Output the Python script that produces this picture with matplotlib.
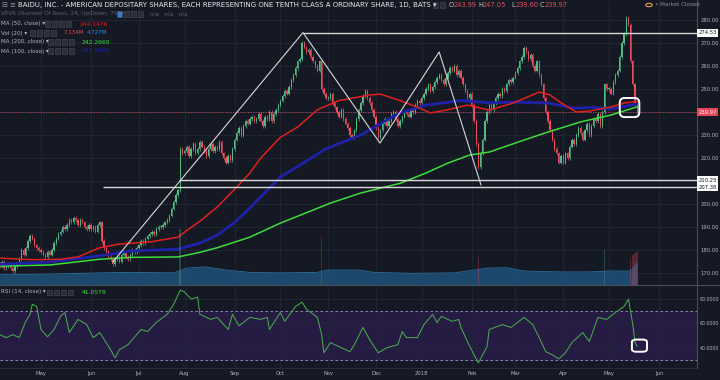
import numpy as np
import pandas as pd
import matplotlib
matplotlib.use("Agg")
import matplotlib.pyplot as plt
from matplotlib.patches import FancyBboxPatch, Rectangle
from matplotlib.lines import Line2D

# daily closes, 2017-04-03 .. 2018-05-18
closes = [
    # Apr 2017
    174, 173, 175, 172, 173, 174, 172, 171, 173, 174, 176, 180, 178, 181, 184, 186, 185, 182, 181, 180,
    # May
    179, 178, 177, 179, 178, 180, 183, 185, 187, 188, 190, 189, 191, 193, 192, 194, 193, 191, 193, 192, 190, 189, 191,
    # Jun
    189, 190, 188, 191, 192, 184, 181, 179, 177, 176, 174, 176, 177, 175, 178, 179, 177, 176, 178, 180, 179, 181,
    # Jul
    182, 184, 183, 185, 186, 187, 188, 187, 189, 190, 190, 191, 192, 193, 195, 198, 201, 204, 206, 224, 222,
    # Aug
    223, 225, 221, 224, 226, 222, 224, 227, 225, 223, 221, 224, 226, 223, 225, 224, 227, 222, 220, 218, 221, 219, 224,
    # Sep
    228, 231, 233, 230, 234, 236, 235, 237, 238, 236, 237, 239, 236, 234, 238, 237, 240, 236, 239, 241, 243,
    # Oct
    245, 247, 249, 248, 251, 254, 256, 259, 262, 263, 270, 268, 266, 267, 264, 262, 260, 258, 262, 250, 248, 246,
    # Nov
    246, 248, 244, 242, 240, 238, 241, 237, 235, 233, 230, 229, 232, 237, 241, 244, 247, 249, 246, 244, 241, 238,
    # Dec
    233, 229, 232, 235, 237, 234, 236, 239, 240, 237, 234, 236, 238, 240, 239, 238, 241, 240, 243, 245, 244,
    # Jan 2018
    246, 248, 250, 252, 249, 251, 253, 255, 256, 254, 252, 255, 257, 259, 258, 260, 256, 258, 255, 252, 249, 246, 248,
    # Feb
    243, 236, 226, 216, 222, 228, 236, 240, 243, 241, 244, 246, 248, 247, 250, 249, 252, 254, 253, 255,
    # Mar
    257, 259, 262, 264, 268, 266, 263, 265, 260, 258, 262, 256, 252, 246, 240, 236, 232, 228, 224, 222, 218, 221,
    # Apr
    218, 222, 220, 225, 228, 226, 230, 233, 231, 228, 232, 235, 230, 234, 237, 236, 239, 234, 240, 252, 250,
    # May
    250, 248, 253, 256, 258, 264, 270, 274, 281, 278, 262, 252, 243.99, 239.97,
]

# moving averages (bar index, value)
ma50_idx = [1, 16, 29, 37, 47, 56, 70, 83, 87, 93, 101, 110, 116, 121, 130, 138, 147, 157, 171, 176,
            185, 194, 199, 207, 216, 226, 237, 249, 254, 259, 266, 272, 282, 288, 294]
ma50_val = [176.5, 175.8, 176, 177, 181, 182.6, 183.5, 185.6, 188.5, 192.5, 198.7, 207.4, 213.5, 220, 229, 233.5,
            241, 245, 247.4, 247.8, 245, 241.7, 239.6, 241, 243, 240.8, 243.9, 248.7, 247.4, 244, 240, 240.4,
            242.2, 243.9, 244.6]
ma100_idx = [1, 24, 47, 61, 83, 93, 101, 109, 116, 130, 151, 167, 176, 185, 197, 213, 226, 236, 253, 265, 274, 282, 294]
ma100_val = [173.8, 174.8, 177.5, 179.6, 180.4, 183, 186.5, 192, 198.3, 211.7, 224, 230, 235, 239.6, 243, 245,
             244, 244.3, 243.9, 241.7, 242, 241.3, 243.5]
ma200_idx = [1, 24, 47, 61, 83, 93, 101, 116, 130, 153, 167, 185, 197, 207, 217, 226, 242, 253, 268, 282, 294]
ma200_val = [173, 173.5, 176, 176.8, 177, 179, 181, 185.6, 191.7, 200.4, 204.8, 209, 213.5, 217.8, 221.3, 222.6,
             227.8, 231.3, 235.7, 238.7, 242.27]

# volume 20-day average (millions) and the few visible volume spikes
volma_idx = [1, 20, 47, 61, 81, 87, 95, 105, 116, 130, 147, 151, 166, 173, 190, 210, 225, 234, 242, 258, 272, 281, 291, 294]
volma_val = [2.2, 2.3, 2.6, 2.7, 2.6, 3.6, 3.9, 3.2, 2.7, 2.6, 2.7, 3.2, 3.2, 2.7, 2.5, 2.6, 3.6, 3.7, 3.0, 2.8,
             2.8, 3.0, 3.0, 4.7]
spike_idx = [84, 149, 221, 279, 291, 292, 293, 294]
spike_vol = [12.0, 10.3, 6.0, 7.5, 5.5, 6.5, 6.8, 7.13]

# RSI (14)
rsi_idx = [1, 4, 7, 10, 13, 15, 16, 18, 20, 23, 26, 29, 31, 33, 37, 41, 44, 47, 52, 54,
           56, 60, 62, 66, 69, 73, 78, 81, 84, 86, 89, 92, 93, 98, 101, 106, 108, 111, 116, 121,
           124, 125, 130, 132, 137, 140, 142, 147, 149, 150, 153, 157, 162, 164, 168, 171, 175, 179, 184, 186,
           188, 193, 196, 200, 202, 204, 209, 212, 213, 216, 219, 221, 225, 226, 232, 236, 239, 242, 246, 249,
           252, 255, 258, 261, 264, 269, 272, 276, 280, 284, 288, 290, 292, 293, 294]
rsi_val = [50.8, 48.3, 50.8, 48.3, 61.7, 67.5, 75.8, 74, 55, 49, 55, 66, 69, 52.5, 63.3, 59, 48.3, 52.5, 38.3, 31.7,
           38.3, 42.5, 46.7, 55, 53.3, 60.8, 67.5, 75.8, 87.5, 85.8, 80, 81.7, 67.5, 63.3, 65, 55, 67.5, 58, 65, 63.3,
           65, 55, 69, 61.7, 74, 77.5, 71.7, 65, 50.8, 35.8, 44.2, 40.8, 36.7, 42.5, 56.7, 46.7, 35.8, 40, 42.5, 53.3,
           48.3, 48.3, 59, 67.5, 60.8, 65.8, 61.7, 63.3, 56.7, 45, 34.2, 27.5, 40.8, 55, 59, 56.7, 60.8, 65, 59, 48.3,
           36.7, 34.2, 30.8, 35.8, 44.2, 52.5, 45, 65, 63.3, 69, 74, 80, 59, 44.2, 41.06]

# drawn pattern and horizontal levels
pattern_idx = [53, 140.4, 175.8, 203, 222.2]
pattern_px = [174.8, 274.53, 226.5, 266.1, 208.3]
level_px = [274.53, 210.25, 207.38]
level_start = [140.4, 83.4, 48.5]
last_price = 239.97

month_names = ["Apr", "May", "Jun", "Jul", "Aug", "Sep", "Oct", "Nov", "Dec", "2018",
               "Feb", "Mar", "Apr", "May", "Jun"]

BG = "#151924"
GRID = "#242836"
TXT = "#b2b5be"
UP = "#53b987"
DOWN = "#eb4d5c"

days = pd.bdate_range("2017-04-03", periods=330)
mstarts = [i for i in range(len(days)) if i == 0 or days[i].month != days[i - 1].month][:len(month_names)]

closes = np.array(closes, dtype=float)
opens = np.r_[closes[0], closes[:-1]]
idx = np.arange(len(closes))

fig = plt.figure(figsize=(7.2, 3.8), dpi=100, facecolor=BG)
ax = fig.add_axes([0, 0.25, 697 / 720, 0.75], facecolor=BG)
ar = fig.add_axes([0, 12 / 380, 697 / 720, 82 / 380], facecolor=BG, sharex=ax)

# volume on its own scale at the bottom of the price pane
av = ax.twinx()
av.set_ylim(0, 61)
av.axis("off")

for a in (ax, ar):
    for s in a.spines.values():
        s.set_visible(False)
    a.spines["right"].set_visible(True)
    a.spines["right"].set_color("#4a4e5a")
    a.yaxis.tick_right()
    a.tick_params(axis="both", length=0, colors=TXT, labelsize=3.8, pad=2.5)
    a.set_xticks(mstarts)
    a.grid(True, color=GRID, lw=0.6)
    a.set_axisbelow(True)

ax.set_xlim(1.15, 321.5)
ax.set_ylim(164.8, 288.7)
price_ticks = np.arange(170, 290, 10)
ax.set_yticks(price_ticks)
# 210 and 240 sit under the price tags
ax.set_yticklabels(["" if v in (210, 240) else "%.2f" % v for v in price_ticks])
plt.setp(ax.get_xticklabels(), visible=False)

av.fill_between(volma_idx, 0, volma_val, color="#1d4f73", alpha=0.9, lw=0)
av.plot(volma_idx, volma_val, color="#2b6f9e", lw=0.6)
av.bar(spike_idx, spike_vol, width=0.7,
       color=[UP if closes[i] >= opens[i] else DOWN for i in spike_idx], alpha=0.3)

# candles
up = closes >= opens
body = np.maximum(np.abs(closes - opens), 0.35)
ax.bar(idx, body, bottom=np.minimum(opens, closes), width=0.6,
       color=np.where(up, UP, DOWN), lw=0, zorder=3)
ax.vlines(idx, np.minimum(opens, closes) - 0.8, np.maximum(opens, closes) + 0.8,
          colors=np.where(up, UP, DOWN), lw=0.5, zorder=3)

# moving averages
ax.plot(ma200_idx, ma200_val, color="#3ddc3d", lw=1.1, zorder=4)
ax.plot(ma100_idx, ma100_val, color="#1f22a8", lw=2.0, zorder=4)
ax.plot(ma50_idx, ma50_val, color="#e0201e", lw=1.1, zorder=5)

# drawings
ax.plot(pattern_idx, pattern_px, color="#d8d8d8", lw=0.8, zorder=6)
for p, s in zip(level_px, level_start):
    ax.hlines(p, s, 330, color="#d8d8d8", lw=1.0, zorder=6)
ax.axhline(last_price, color="#c04a5a", lw=0.6, ls=(0, (1.5, 1.5)), zorder=2)
ax.add_patch(FancyBboxPatch((286, 237.8), 9, 8.3, boxstyle="round,pad=0,rounding_size=2.2",
                            fc="none", ec="white", lw=1.4, zorder=7))

# RSI pane
ar.set_ylim(23.3, 90.8)
ar.set_yticks([40, 60, 80])
ar.set_yticklabels(["40.0000", "60.0000", "80.0000"])
ar.tick_params(axis="y", labelsize=3.4, pad=2)
ar.set_xticklabels(month_names)
ar.axhspan(30, 70, color="#271d45", alpha=0.95, zorder=0)
ar.axhline(70, color="#9a96b8", lw=0.6, ls=(0, (3, 3)))
ar.axhline(30, color="#9a96b8", lw=0.6, ls=(0, (3, 3)))
ar.plot(rsi_idx, rsi_val, color="#4caf50", lw=0.7, zorder=4)
ar.add_patch(FancyBboxPatch((291.6, 36.7), 6.9, 10, boxstyle="round,pad=0,rounding_size=2",
                            fc="none", ec="white", lw=1.4, zorder=7))

fig.add_artist(Line2D([0, 1], [0.25, 0.25], color="#4a4e5a", lw=0.8))
fig.add_artist(Line2D([0, 697 / 720], [12 / 380, 12 / 380], color="#2e3240", lw=0.6))


def px(x, y):
    return x / 720, 1 - y / 380


def label(x, y, s, color=TXT, size=4.3, **kw):
    fig.text(*px(x, y), s, color=color, fontsize=size, va="center", ha="left", **kw)


def icons(x, y, n=4, first=None):
    for k in range(n):
        fc = first if (k == 0 and first) else "#2a2e3a"
        fig.add_artist(Rectangle(px(x + k * 7, y + 2.5), 5 / 720, 5 / 380,
                                 transform=fig.transFigure, fc=fc, ec="#4a4e5a", lw=0.4))


# header
label(1, 5, "\u229f", "#9598a1", 5)
label(9, 5, "\u2261", "#9598a1", 5)
label(18, 5, "BAIDU, INC. - AMERICAN DEPOSITARY SHARES, EACH REPRESENTING ONE TENTH CLASS A "
      "ORDINARY SHARE, 1D, BATS \u25be", "#e8e9ec", 5.0)
icons(433, 5, 2)
for xx, l, v in [(449, "O", "243.99"), (478, "H", "247.05"), (511, "L", "239.60"), (540, "C", "239.97")]:
    label(xx, 5, l, "#c8c9cc", 4.8)
    label(xx + 5, 5, v, "#e0505e", 4.8)

label(1, 14, "VPVR (Number Of Rows, 24, Up/Down, 70) \u25be", "#5d606b", 4.1)
icons(117, 14, 4, first="#2f7fd8")
label(150, 14, "n/a   n/a   n/a", "#5d606b", 4.1)
label(1, 24, "MA (50, close) \u25be", "#b2b5be", 4.1)
icons(45, 24)
label(80, 24, "244.1476", "#e0201e", 4.3)
label(1, 33, "Vol (20) \u25be", "#b2b5be", 4.1)
icons(30, 33)
label(64, 33, "7.134M", "#e0505e", 4.0)
label(87, 33, "4.727M", "#2196f3", 4.0)
label(1, 42, "MA (200, close) \u25be", "#b2b5be", 4.1)
icons(48, 42)
label(82, 42, "242.2660", "#3ddc3d", 4.3)
label(1, 51, "MA (100, close) \u25be", "#b2b5be", 4.1)
icons(48, 51)
label(82, 51, "243.5402", "#1f22a8", 4.3)

label(1, 292, "RSI (14, close) \u25be", "#b2b5be", 4.1)
icons(47, 292)
label(82, 292, "41.0578", "#3ddc3d", 4.3)

fig.add_artist(matplotlib.patches.Circle(px(649, 5), 3.2 / 720, transform=fig.transFigure,
                                         fc="none", ec="#f0a040", lw=0.8))
label(655, 5, "\u2022 Market Closed", "#8a8d96", 4.1)

# price tags on the axis
for p, fc, tc in [(274.53, "white", "#151924"), (210.25, "white", "#151924"),
                  (207.38, "white", "#151924"), (last_price, "#e8445a", "white")]:
    ax.text(1.002, p, "%.2f" % p, transform=ax.get_yaxis_transform(), fontsize=3.8, color=tc,
            va="center", ha="left", zorder=10,
            bbox=dict(boxstyle="square,pad=0.3", fc=fc, ec="none"))

fig.savefig("out.png", dpi=100, facecolor=BG)
